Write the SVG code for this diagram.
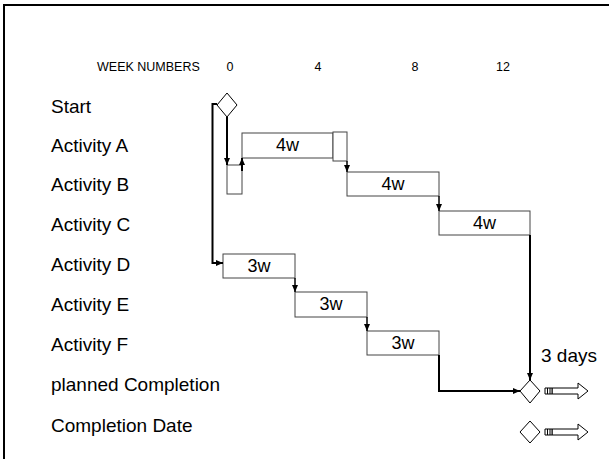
<svg xmlns="http://www.w3.org/2000/svg" width="609" height="459" viewBox="0 0 609 459">
<defs>
<style>
.lbl{font-family:"Liberation Sans",Arial,sans-serif;font-size:19px;fill:#000}
.wk{font-family:"Liberation Sans",Arial,sans-serif;font-size:12.5px;fill:#000}
.bx{fill:#fff;stroke:#444;stroke-width:1}
.bt{font-family:"Liberation Sans",Arial,sans-serif;font-size:18px;fill:#000;text-anchor:middle}
.c{fill:none;stroke:#000;stroke-width:2}
.cs{fill:none;stroke:#000;stroke-width:1.5}
.dm{fill:#fff;stroke:#000;stroke-width:1}
.ba{fill:#fff;stroke:#000;stroke-width:1}
</style>
<marker id="ah" markerUnits="userSpaceOnUse" markerWidth="8" markerHeight="8" viewBox="0 0 8 8" refX="7" refY="4" orient="auto">
<path d="M0,1 L7,4 L0,7 Z" fill="#000"/>
</marker>
</defs>
<rect x="4" y="5" width="700" height="500" fill="#fff" stroke="#000" stroke-width="2"/>
<g id="header">
<text class="wk" x="97" y="71">WEEK NUMBERS</text>
<text class="wk" x="230" y="71" text-anchor="middle">0</text>
<text class="wk" x="318" y="71" text-anchor="middle">4</text>
<text class="wk" x="415" y="71" text-anchor="middle">8</text>
<text class="wk" x="503" y="71" text-anchor="middle">12</text>
</g>
<g id="labels">
<text class="lbl" x="51" y="113">Start</text>
<text class="lbl" x="51" y="152">Activity A</text>
<text class="lbl" x="51" y="191">Activity B</text>
<text class="lbl" x="51" y="231">Activity C</text>
<text class="lbl" x="51" y="271">Activity D</text>
<text class="lbl" x="51" y="311">Activity E</text>
<text class="lbl" x="51" y="351">Activity F</text>
<text class="lbl" x="51" y="391">planned Completion</text>
<text class="lbl" x="51" y="432">Completion Date</text>
</g>
<g id="start"><path class="dm" d="M227,93 L237,105 L227,117 L217,105 Z"/></g>
<g id="actB0"><rect class="bx" x="227" y="165" width="15" height="29"/></g>
<g id="actA"><rect class="bx" x="242" y="133" width="91" height="25"/><text class="bt" x="287.5" y="151">4w</text></g>
<g id="actA2"><rect class="bx" x="333" y="132" width="14" height="29"/></g>
<g id="actB"><rect class="bx" x="347" y="172" width="92" height="24"/><text class="bt" x="393" y="190">4w</text></g>
<g id="actC"><rect class="bx" x="439" y="211" width="91" height="24"/><text class="bt" x="484.5" y="229">4w</text></g>
<g id="actD"><rect class="bx" x="223" y="254" width="72" height="24"/><text class="bt" x="259" y="272">3w</text></g>
<g id="actE"><rect class="bx" x="295" y="292" width="72" height="25"/><text class="bt" x="331" y="310">3w</text></g>
<g id="actF"><rect class="bx" x="367" y="331" width="72" height="24"/><text class="bt" x="403" y="349">3w</text></g>
<g id="planned">
<path class="dm" d="M530,380 L540,391 L530,403 L520,391 Z"/>
<text class="lbl" x="541" y="362">3 days</text>
<path class="ba" d="M552,388 L578,388 L578,383 L588,391 L578,399 L578,394 L552,394 Z"/>
<path class="ba" d="M545,388 h7 v6 h-7 Z M547.5,388 v6 M550,388 v6"/>
</g>
<g id="completion">
<path class="dm" d="M530,421 L540,432 L530,443 L520,432 Z"/>
<path class="ba" d="M552,429 L578,429 L578,424 L588,432 L578,440 L578,435 L552,435 Z"/>
<path class="ba" d="M545,429 h7 v6 h-7 Z M547.5,429 v6 M550,429 v6"/>
</g>
<g id="connectors">
<path class="c" d="M217,104 L212.5,104 L212.5,263 L223,263" marker-end="url(#ah)"/>
<path class="c" d="M227,117 L227,165" marker-end="url(#ah)"/>
<path class="c" d="M242,171 L242,158" marker-end="url(#ah)"/>
<path class="cs" d="M347,161 L347,172" marker-end="url(#ah)"/>
<path class="cs" d="M439,196 L439,211" marker-end="url(#ah)"/>
<path class="c" d="M530,235 L530,380" marker-end="url(#ah)"/>
<path class="cs" d="M295,278 L295,292" marker-end="url(#ah)"/>
<path class="cs" d="M367,317 L367,331" marker-end="url(#ah)"/>
<path class="c" d="M439,355 L439,391 L520,391" marker-end="url(#ah)"/>
</g>
</svg>
